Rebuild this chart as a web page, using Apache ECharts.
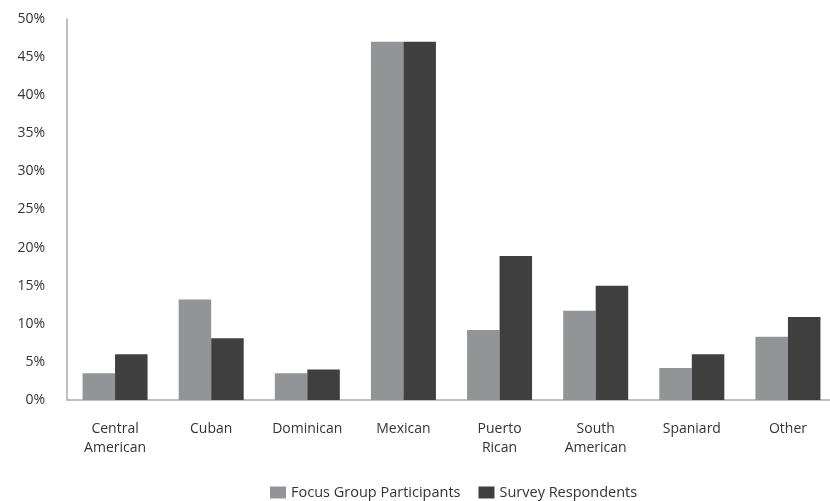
<!DOCTYPE html>
<html>
<head>
<meta charset="utf-8">
<script src="https://cdn.jsdelivr.net/npm/echarts@6/dist/echarts.min.js"></script>
<style>
  html, body { margin: 0; padding: 0; background: #fff; overflow: hidden; }
  #chart { width: 840px; height: 501px; }
</style>
</head>
<body>
<div id="chart"></div>
<script>
// Hispanic origin groups on the category axis
const categories = ['Central\nAmerican', 'Cuban', 'Dominican', 'Mexican', 'Puerto\nRican', 'South\nAmerican', 'Spaniard', 'Other'];
// Share of each group, in percent
const focusGroup = [3.5, 13.2, 3.5, 47, 9.2, 11.7, 4.2, 8.3];
const surveyRespondents = [6, 8.1, 4, 47, 18.9, 15, 6, 10.9];
const seriesNames = ['Focus Group Participants', 'Survey Respondents'];

const fontFamily = '"Open Sans", "Noto Sans", sans-serif';
const textColor = '#333';

const chart = echarts.init(document.getElementById('chart'));
chart.setOption({
  animation: false,
  textStyle: { fontFamily: fontFamily },
  // the plot runs a little past the right edge of the window
  grid: { left: 67, top: 19, width: 769, height: 381 },
  legend: {
    left: 265,
    top: 480,
    itemWidth: 16,
    itemHeight: 12,
    itemGap: 18,
    icon: 'rect',
    textStyle: { fontSize: 14.5, color: textColor, fontFamily: fontFamily },
    data: seriesNames
  },
  xAxis: {
    type: 'category',
    data: categories,
    axisLine: { lineStyle: { color: '#acacac', width: 1.5 } },
    axisTick: { show: false },
    axisLabel: { fontSize: 14, color: textColor, lineHeight: 19, margin: 20 }
  },
  yAxis: {
    type: 'value',
    min: 0,
    max: 50,
    interval: 5,
    axisLine: { show: true, lineStyle: { color: '#acacac', width: 1.5 } },
    axisTick: { show: false },
    splitLine: { show: false },
    axisLabel: { fontSize: 14, color: textColor, margin: 22, formatter: '{value}%' }
  },
  series: [
    {
      name: seriesNames[0],
      type: 'bar',
      data: focusGroup,
      barWidth: 32.5,
      barGap: '0%',
      itemStyle: { color: '#939498' }
    },
    {
      name: seriesNames[1],
      type: 'bar',
      data: surveyRespondents,
      barWidth: 32.5,
      barGap: '0%',
      itemStyle: { color: '#3f3f3f' }
    }
  ]
});
</script>
</body>
</html>
